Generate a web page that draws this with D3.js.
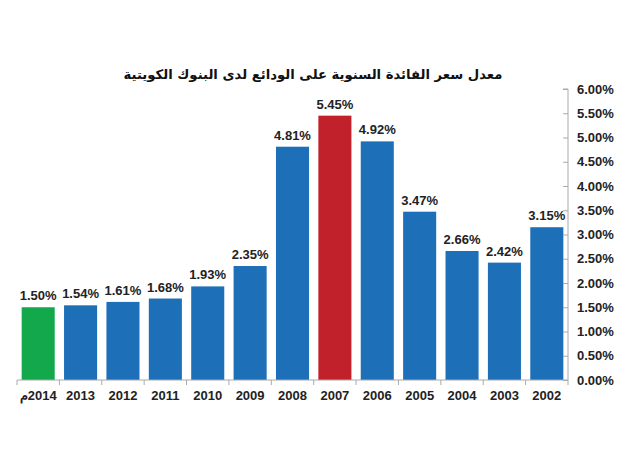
<!DOCTYPE html>
<html><head><meta charset="utf-8">
<script src="https://cdn.jsdelivr.net/npm/d3@7"></script>
<style>body{margin:0;background:#fff}svg{display:block}</style>
</head><body>
<svg id="c" width="621" height="450"></svg>
<script>
const categories = ["2014م","2013","2012","2011","2010","2009","2008","2007","2006","2005","2004","2003","2002"];
const values = [1.50,1.54,1.61,1.68,1.93,2.35,4.81,5.45,4.92,3.47,2.66,2.42,3.15];
const barColors = ["#13a84b","#1d6fb8","#1d6fb8","#1d6fb8","#1d6fb8","#1d6fb8","#1d6fb8","#c1212b","#1d6fb8","#1d6fb8","#1d6fb8","#1d6fb8","#1d6fb8"];
const yTicks = [0,0.5,1,1.5,2,2.5,3,3.5,4,4.5,5,5.5,6];
const title = "معدل سعر الفائدة السنوية على الودائع لدى البنوك الكويتية";

const svg = d3.select("#c");
const pLeft = 17, pRight = 568, pTop = 89, pBottom = 380;
const x = d3.scaleBand().domain(categories).range([pLeft, pRight]).paddingInner(0.22).paddingOuter(0.11);
const y = d3.scaleLinear().domain([0, 6]).range([pBottom, pTop]);
const font = "'Liberation Sans', Arial, sans-serif";

svg.append("text").attr("x", 313).attr("y", 79).attr("text-anchor", "middle")
  .attr("font-family", "'DejaVu Sans', 'Noto Sans', sans-serif").attr("font-weight", "bold")
  .attr("font-size", 13.2).attr("fill", "#111").text(title);

svg.selectAll("rect.bar").data(values).join("rect").attr("class","bar")
  .attr("x", (d,i) => x(categories[i])).attr("width", x.bandwidth())
  .attr("y", d => y(d)).attr("height", d => y(0) - y(d))
  .attr("fill", (d,i) => barColors[i]);

svg.selectAll("text.val").data(values).join("text").attr("class","val")
  .attr("x", (d,i) => x(categories[i]) + x.bandwidth()/2).attr("y", d => y(d) - 7)
  .attr("text-anchor","middle").attr("font-family", font).attr("font-weight","bold")
  .attr("font-size", 13).attr("fill","#222").text(d => d.toFixed(2) + "%");

const yAxis = d3.axisLeft(y).tickValues(yTicks).tickSize(5).tickFormat(() => "");
const yg = svg.append("g").attr("transform", `translate(${pRight},0)`).call(yAxis);
yg.select(".domain").attr("stroke","#aaa").attr("d", `M-5,${pTop}H0V${pBottom}`);
yg.selectAll(".tick line").attr("stroke","#aaa");
svg.selectAll("text.ylab").data(yTicks).join("text").attr("class","ylab")
  .attr("x", pRight + 9).attr("y", d => y(d) + 4.5)
  .attr("font-family", font).attr("font-weight","bold").attr("font-size", 13).attr("fill","#222")
  .text(d => d.toFixed(2) + "%");

const xg = svg.append("g").attr("transform", `translate(0,${pBottom})`);
xg.append("line").attr("x1", pLeft).attr("x2", pRight).attr("stroke","#aaa");
const bounds = d3.range(categories.length + 1).map(i => pLeft + i * x.step());
xg.selectAll("line.tk").data(bounds).join("line").attr("class","tk")
  .attr("x1", d => d).attr("x2", d => d).attr("y1", 0).attr("y2", 5).attr("stroke","#aaa");
xg.selectAll("text.xl").data(categories).join("text").attr("class","xl")
  .attr("x", d => x(d) + x.bandwidth()/2).attr("y", 20)
  .attr("direction", "rtl")
  .attr("text-anchor","middle").attr("font-family", font).attr("font-weight","bold")
  .attr("font-size", 13).attr("fill","#222").text(d => d);
</script>
</body></html>
